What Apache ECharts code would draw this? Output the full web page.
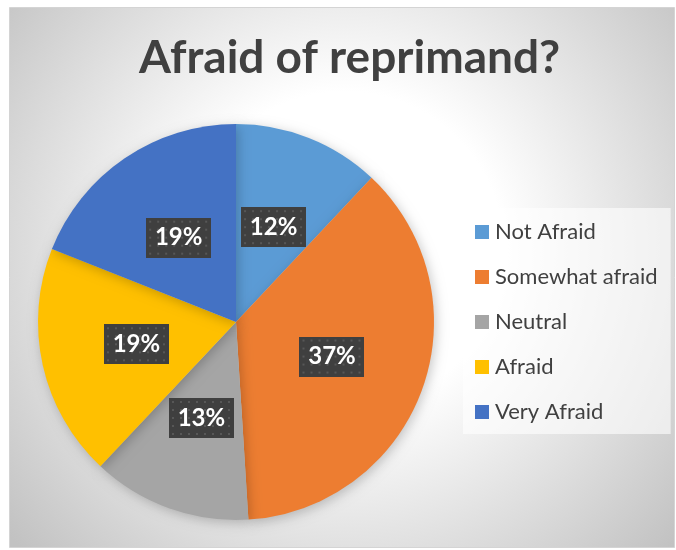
<!DOCTYPE html>
<html>
<head>
<meta charset="utf-8">
<script src="https://cdn.jsdelivr.net/npm/echarts@6/dist/echarts.min.js"></script>
<style>
  html, body { margin: 0; padding: 0; background: #ffffff; }
  #chart { width: 676px; height: 550px; }
</style>
</head>
<body>
<div id="chart"></div>
<script>
// Survey answers and their shares (percent)
const categories = ['Not Afraid', 'Somewhat afraid', 'Neutral', 'Afraid', 'Very Afraid'];
const shares = [12, 37, 13, 19, 19];
const sliceColors = ['#5B9BD5', '#ED7D31', '#A5A5A5', '#FFC000', '#4472C4'];
const chartTitle = 'Afraid of reprimand?';

// Dark dotted tile used behind the percentage labels
function dottedTile(w, h) {
  const c = document.createElement('canvas');
  c.width = w; c.height = h;
  const g = c.getContext('2d');
  g.fillStyle = '#3f3f3f';
  g.fillRect(0, 0, w, h);
  g.fillStyle = '#575757';
  for (let y = 3; y < h; y += 8) {
    for (let x = 3; x < w; x += 8) {
      g.fillRect(x, y, 2, 2);
    }
  }
  return c;
}
const tile = dottedTile(65, 40);

const chart = echarts.init(document.getElementById('chart'), null, { renderer: 'canvas' });

chart.setOption({
  animation: false,
  graphic: [{
    type: 'rect',
    silent: true,
    z: -10,
    shape: { x: 9.5, y: 7.5, width: 665, height: 540 },
    style: {
      fill: {
        type: 'radial', x: 345, y: 250, r: 440, global: true,
        colorStops: [
          { offset: 0, color: '#ffffff' },
          { offset: 0.36, color: '#ffffff' },
          { offset: 1, color: '#c2c2c2' }
        ]
      },
      stroke: '#d4d4d4',
      lineWidth: 1
    }
  }],
  title: {
    text: chartTitle,
    left: 139,
    top: 35,
    padding: 0,
    textStyle: {
      fontFamily: 'Lato',
      fontWeight: 'bold',
      fontSize: 46,
      color: '#404040'
    }
  },
  legend: {
    orient: 'vertical',
    left: 463,
    top: 208,
    data: categories,
    icon: 'rect',
    itemWidth: 14,
    itemHeight: 14,
    itemGap: 23,
    padding: [13, 13, 11, 12],
    backgroundColor: 'rgba(255,255,255,0.6)',
    itemStyle: { shadowBlur: 0, shadowOffsetX: 0, shadowOffsetY: 0 },
    textStyle: {
      fontFamily: 'Lato',
      fontSize: 22,
      lineHeight: 20,
      color: '#404040',
      padding: [0, 0, 0, 1]
    }
  },
  series: [{
    type: 'pie',
    center: [236, 322],
    radius: 198,
    startAngle: 90,
    clockwise: true,
    avoidLabelOverlap: false,
    emphasis: { disabled: true },
    itemStyle: {
      shadowBlur: 12,
      shadowColor: 'rgba(0,0,0,0.22)',
      shadowOffsetX: 2,
      shadowOffsetY: 3
    },
    label: {
      show: true,
      position: 'inside',
      formatter: p => p.value + '%',
      fontFamily: 'Lato',
      fontWeight: 'bold',
      fontSize: 24,
      color: '#ffffff',
      width: 65,
      height: 40,
      lineHeight: 40,
      align: 'center',
      verticalAlign: 'middle',
      backgroundColor: { image: tile },
      shadowBlur: 5,
      shadowColor: 'rgba(0,0,0,0.45)',
      shadowOffsetX: 3,
      shadowOffsetY: 3
    },
    labelLine: { show: false },
    data: categories.map((name, i) => ({
      name: name,
      value: shares[i],
      itemStyle: { color: sliceColors[i] }
    }))
  }]
});
</script>
</body>
</html>
